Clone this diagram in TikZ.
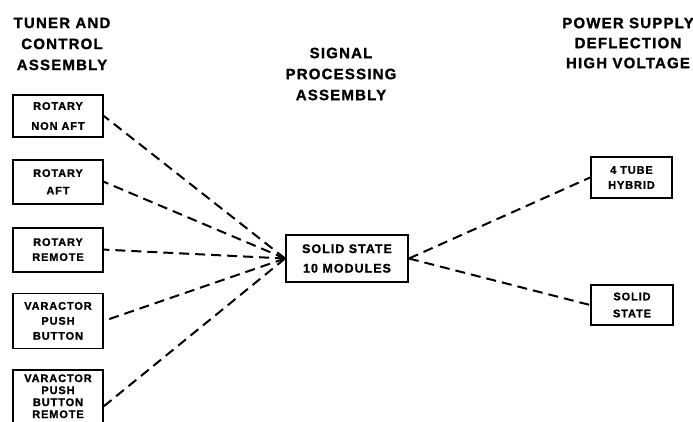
\documentclass[tikz,border=0pt]{standalone}
\usepackage{fontspec}
\newfontfamily\lettering{Liberation Sans}[LetterSpace=8, BoldFeatures={FakeBold=1.2}]
\usetikzlibrary{positioning}

\begin{document}
\begin{tikzpicture}[x=1pt,y=-1pt,
	unit/.style={draw=black,
		line width=1.8pt,
		rectangle,
		inner sep=0pt,
		minimum width=90pt,
		align=center,
		font=\lettering\bfseries\fontsize{11}{15}\selectfont},
	head/.style={align=center, font=\lettering\bfseries\fontsize{15}{21}\selectfont},
	link/.style={line width=2pt, dash pattern=on 10pt off 6pt}]
	\useasboundingbox (0,0) rectangle (693,421);
	% column headings
	\node[head] (tuner) at (62,44) {TUNER AND\\CONTROL\\ASSEMBLY};
	\node[head] (signal) at (341,74) {SIGNAL\\PROCESSING\\ASSEMBLY};
	\node[head,font=\lettering\bfseries\fontsize{15}{20}\selectfont] (power) at (628,43) {POWER SUPPLY\\DEFLECTION\\HIGH VOLTAGE};
	% tuner and control units
	\node[unit,minimum height=42pt] (b1) at (58,116) {ROTARY\\[5pt]NON AFT};
	\node[unit,minimum height=44pt,below=21pt of b1] (b2) {ROTARY\\[2.5pt]AFT};
	\node[unit,minimum height=44pt,below=22pt of b2] (b3) {ROTARY\\REMOTE};
	\node[unit,minimum height=55pt,below=20pt of b3] (b4) {VARACTOR\\PUSH\\BUTTON};
	\node[unit,minimum height=72pt,text depth=20pt,below=20pt of b4,
		font=\lettering\bfseries\fontsize{11}{12}\selectfont] (b5) {VARACTOR\\PUSH\\BUTTON\\REMOTE};
	% signal processing
	\node[unit,minimum width=122pt,minimum height=47pt,
		font=\lettering\bfseries\fontsize{12.5}{19.5}\selectfont] (sp) at (347,258.5) {SOLID STATE\\10 MODULES};
	% power supply
	\node[unit,minimum width=81pt,minimum height=41pt] (r1) at (631.5,177.5) {4 TUBE\\HYBRID};
	\node[unit,minimum width=82pt,minimum height=40pt,font=\lettering\bfseries\fontsize{11}{17}\selectfont] (r2) at (632,305) {SOLID\\STATE};
	% connections
	\draw[link] (sp.west) -- (b1.east);
	\draw[link] (sp.west) -- (b2.east);
	\draw[link] (sp.west) -- (b3.east);
	\draw[link] (sp.west) -- (b4.east);
	\draw[link] (sp.west) -- (b5.east);
	\draw[link] (sp.east) -- (r1.west);
	\draw[link] (sp.east) -- (r2.west);
\end{tikzpicture}
\end{document}
